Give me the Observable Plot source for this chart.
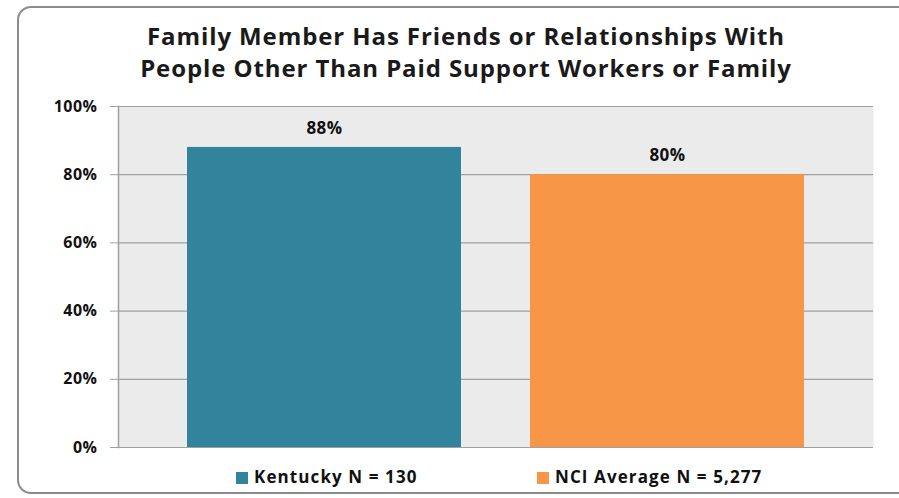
<!DOCTYPE html>
<html>
<head>
<meta charset="utf-8">
<script src="https://cdn.jsdelivr.net/npm/d3@7"></script>
<script src="https://cdn.jsdelivr.net/npm/@observablehq/plot@0.6"></script>
<style>
  html, body { margin: 0; padding: 0; background: #fff; }
  body { width: 899px; height: 498px; position: relative; overflow: hidden; font-family: "Open Sans", Lato, sans-serif; }
  #border { position: absolute; left: 17px; top: 6px; width: 940px; height: 488px; border: 2px solid #8c8c8c; border-radius: 14px; box-sizing: border-box; }
  #title { position: absolute; left: 0; top: 20px; width: 932px; text-align: center; font-weight: bold; font-size: 24px; letter-spacing: 0.9px; line-height: 32px; color: #1a1a1a; }
  #chart { position: absolute; left: 0; top: 90px; }
  .leg { position: absolute; top: 466px; font-weight: bold; font-size: 17px; letter-spacing: 1.1px; line-height: 22px; color: #111; white-space: nowrap; }
  .sw { position: absolute; top: 6px; width: 12px; height: 12px; }
  #chart svg text { letter-spacing: 0.5px; }
</style>
</head>
<body>
<div id="border"></div>
<div id="title">Family Member Has Friends or Relationships With<br>People Other Than Paid Support Workers or Family</div>
<div id="chart"></div>
<div id="legend"></div>
<script>
const categories = ["Kentucky N = 130", "NCI Average N = 5,277"];
const values = [0.88, 0.80];
const labels = ["88%", "80%"];
const colors = ["#31849b", "#f79646"];
const yTicks = [0, 0.2, 0.4, 0.6, 0.8, 1.0];
const yTickLabels = ["0%", "20%", "40%", "60%", "80%", "100%"];

const data = categories.map((c, i) => ({category: c, value: values[i], label: labels[i]}));

const chart = Plot.plot({
  width: 899,
  height: 370,
  marginTop: 16,
  marginBottom: 13,
  marginLeft: 118,
  marginRight: 26,
  style: {fontFamily: "'Open Sans', Lato, sans-serif", fontWeight: "bold", fontSize: "16px", color: "#111", background: "transparent"},
  x: {domain: categories, padding: 0.2, axis: null},
  y: {domain: [0, 1]},
  color: {domain: categories, range: colors},
  marks: [
    Plot.frame({fill: "#ebebeb", stroke: null}),
    Plot.ruleY(yTicks, {stroke: "#a0a0a0", strokeWidth: 1.2}),
    Plot.barY(data, {x: "category", y: "value", fill: "category"}),
    Plot.axisY({ticks: yTicks, tickFormat: (d) => yTickLabels[yTicks.indexOf(d)], tickSize: 8, tickPadding: 13, stroke: "#a0a0a0", fill: "#111", label: null}),
    Plot.frame({anchor: "left", stroke: "#a0a0a0", strokeWidth: 1.5}),
    Plot.text(data, {x: "category", y: "value", text: "label", dy: -19, fontSize: 17, fontWeight: "bold", fill: "#111"})
  ]
});
document.getElementById("chart").appendChild(chart);

const legend = document.getElementById("legend");
const legX = [236, 537];
categories.forEach((c, i) => {
  const d = document.createElement("div");
  d.className = "leg";
  d.style.left = legX[i] + "px";
  d.innerHTML = `<span class="sw" style="left:0;background:${colors[i]}"></span><span style="margin-left:18px">${c}</span>`;
  legend.appendChild(d);
});
</script>
</body>
</html>
